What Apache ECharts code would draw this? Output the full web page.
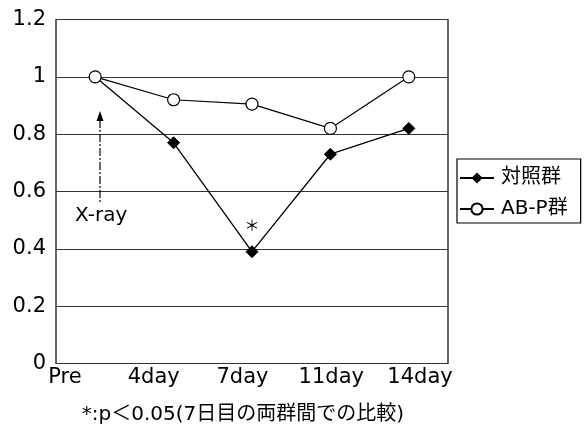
<!DOCTYPE html>
<html>
<head>
<meta charset="utf-8">
<script src="https://cdn.jsdelivr.net/npm/echarts@6/dist/echarts.min.js"></script>
<style>
  html, body { margin: 0; padding: 0; background: #fff; }
  #chart { width: 587px; height: 427px; }
</style>
</head>
<body>
<div id="chart"></div>
<script>
// Time points after the procedure
const categories = ['Pre', '4day', '7day', '11day', '14day'];
// Ratio relative to the pre-procedure value
const controlValues = [1.0, 0.77, 0.39, 0.73, 0.82];
const abpValues = [1.0, 0.92, 0.905, 0.82, 1.0];
const seriesNames = ['対照群', 'AB-P群'];
const yTicks = [0, 0.2, 0.4, 0.6, 0.8, 1, 1.2];
const footnote = '*:p＜0.05(7日目の両群間での比較)';
const arrowLabel = 'X-ray';
const sigIndex = 2;

const LATIN = '"DejaVu Sans", "Noto Sans CJK JP", sans-serif';
const CJK = '"Noto Sans CJK JP", "DejaVu Sans", sans-serif';

const chart = echarts.init(document.getElementById('chart'), null, { renderer: 'canvas' });

const option = {
  animation: false,
  backgroundColor: '#fff',
  grid: [
    { left: 56, right: 139, top: 19.5, bottom: 63.5, show: true, borderColor: '#000', borderWidth: 1.2, backgroundColor: 'transparent' },
    { left: 65, right: 167, top: 19.5, bottom: 63.5, show: false }
  ],
  xAxis: [
    {
      type: 'category', gridIndex: 0, data: categories, boundaryGap: true,
      axisLine: { show: false }, axisTick: { show: false }, axisLabel: { show: false }
    },
    {
      type: 'category', gridIndex: 1, data: categories, boundaryGap: false,
      axisLine: { show: false }, axisTick: { show: false },
      axisLabel: { show: true, color: '#000', fontFamily: LATIN, fontSize: 21, margin: 4 }
    }
  ],
  yAxis: [
    {
      type: 'value', gridIndex: 0, min: 0, max: 1.2, interval: 0.2,
      axisLine: { show: false }, axisTick: { show: false },
      axisLabel: {
        color: '#000', fontFamily: LATIN, fontSize: 21, margin: 10,
        formatter: v => {
          const t = yTicks.find(k => Math.abs(k - v) < 1e-6);
          return t === undefined ? '' : String(t);
        }
      },
      splitLine: { show: true, lineStyle: { color: '#333', width: 1 } }
    },
    {
      type: 'value', gridIndex: 1, min: 0, max: 1.2, show: false
    }
  ],
  legend: {
    orient: 'vertical',
    left: 457, top: 159,
    padding: [9, 13, 4, 2],
    itemGap: 11,
    itemWidth: 34, itemHeight: 14,
    borderColor: '#000', borderWidth: 1.2,
    backgroundColor: '#fff',
    textStyle: { color: '#000', fontFamily: LATIN, fontSize: 20, padding: [0, 0, 0, 2] },
    data: seriesNames
  },
  series: [
    {
      name: seriesNames[0], type: 'line', xAxisIndex: 0, yAxisIndex: 0,
      data: controlValues.map((v, i) => i === sigIndex ? {
        value: v,
        label: { show: true, position: 'top', distance: 12, formatter: '＊', color: '#000', fontFamily: CJK, fontSize: 15 }
      } : v),
      symbol: 'diamond', symbolSize: 12,
      itemStyle: { color: '#000', borderColor: '#000' },
      lineStyle: { color: '#000', width: 1.3 },
      z: 3
    },
    {
      name: seriesNames[1], type: 'line', xAxisIndex: 0, yAxisIndex: 0,
      data: abpValues,
      symbol: 'circle', symbolSize: 12,
      itemStyle: { color: '#fff', borderColor: '#000', borderWidth: 1.2 },
      lineStyle: { color: '#000', width: 1.2 },
      z: 4
    }
  ],
  graphic: [
    {
      type: 'line', z: 10,
      shape: { x1: 100, y1: 120, x2: 100, y2: 204 },
      style: { stroke: '#000', lineWidth: 1.2, lineDash: [8, 2, 2, 2] }
    },
    {
      type: 'polygon', z: 10,
      shape: { points: [[100, 111], [96.5, 121], [103.5, 121]] },
      style: { fill: '#000' }
    },
    {
      type: 'text', z: 10, x: 75, y: 216,
      style: { text: arrowLabel, fill: '#000', font: '20px ' + LATIN, verticalAlign: 'middle' }
    },
    {
      type: 'text', z: 10, x: 243, y: 415,
      style: { text: footnote, fill: '#000', font: '20px ' + LATIN, align: 'center', verticalAlign: 'middle' }
    }
  ]
};

chart.setOption(option);
</script>
</body>
</html>
